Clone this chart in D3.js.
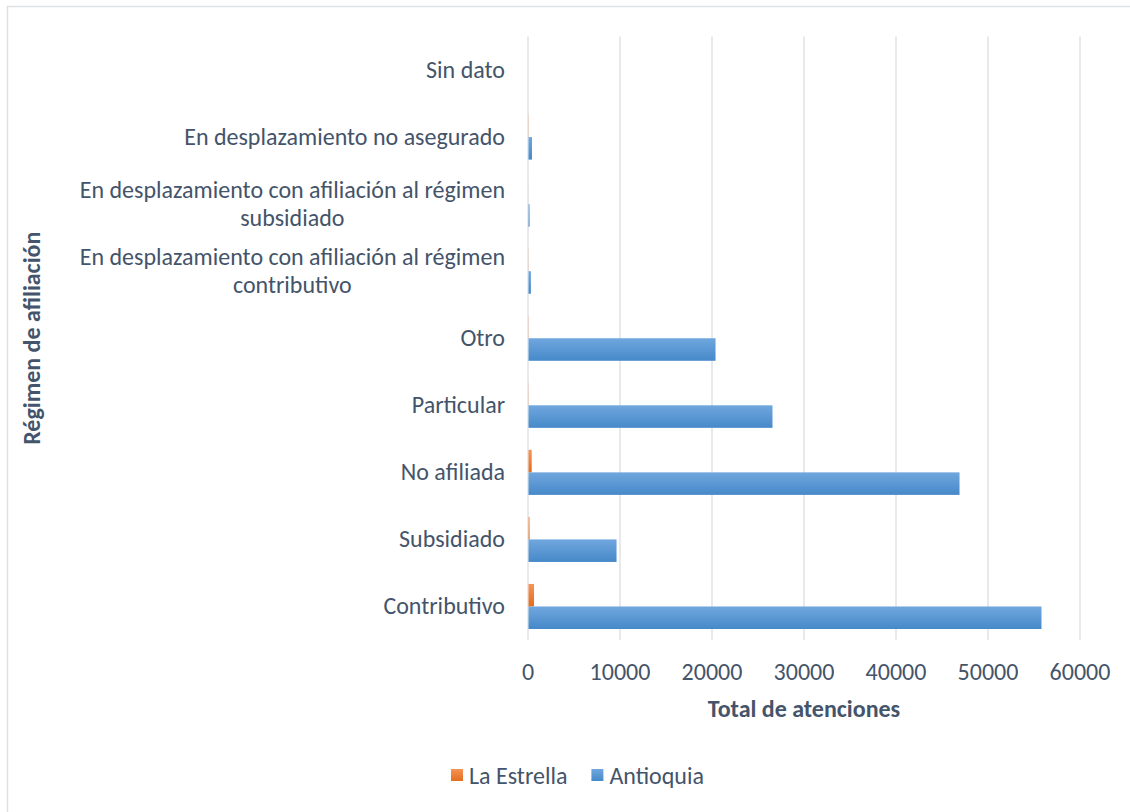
<!DOCTYPE html>
<head>
  <meta charset="utf-8">
  <script src="https://d3js.org/d3.v7.min.js"></script>
  <style>
    body { margin: 0; background: #fff; }
    text { font-family: Calibri, Carlito, Lato, sans-serif; fill: #44546a; }
  </style>
</head>
<body>
<script type="text/javascript">
// categories top to bottom
var categories = ["Sin dato", "En desplazamiento no asegurado",
  "En desplazamiento con afiliación al régimen subsidiado",
  "En desplazamiento con afiliación al régimen contributivo",
  "Otro", "Particular", "No afiliada", "Subsidiado", "Contributivo"];
var labelLines = [["Sin dato"], ["En desplazamiento no asegurado"],
  ["En desplazamiento con afiliación al régimen", "subsidiado"],
  ["En desplazamiento con afiliación al régimen", "contributivo"],
  ["Otro"], ["Particular"], ["No afiliada"], ["Subsidiado"], ["Contributivo"]];
var series = ["La Estrella", "Antioquia"];
var laEstrella = [0, 20, 5, 15, 20, 20, 350, 120, 600];
var antioquia = [0, 380, 120, 260, 20330, 26520, 46850, 9570, 55760];
var xTicks = [0, 10000, 20000, 30000, 40000, 50000, 60000];

var w = 1130, h = 812;
var pLeft = 528, pRight = 1080, pTop = 36.5, pBottom = 640;
var fs = 24;

var svg = d3.select("body").append("svg").attr("width", w).attr("height", h);

var defs = svg.append("defs");
function grad(id, c1, c2) {
  var g = defs.append("linearGradient").attr("id", id)
    .attr("x1", 0).attr("y1", 0).attr("x2", 0).attr("y2", 1);
  g.append("stop").attr("offset", "0%").attr("stop-color", c1);
  g.append("stop").attr("offset", "100%").attr("stop-color", c2);
}
grad("gOrange", "#f69455", "#e46d1f");
grad("gBlue", "#70a7de", "#4689c9");
var fills = {"La Estrella": "url(#gOrange)", "Antioquia": "url(#gBlue)"};

// outer frame
svg.append("rect").attr("x", 7.5).attr("y", 6.5)
  .attr("width", 1140).attr("height", 820)
  .attr("fill", "none").attr("stroke", "#dde1e6").attr("stroke-width", 1.5);

var x = d3.scaleLinear().domain([0, 60000]).range([pLeft, pRight]);
var y0 = d3.scaleBand().domain(categories).range([pTop, pBottom])
  .paddingInner(0.328).paddingOuter(0.164);
var y1 = d3.scaleBand().domain(series).range([0, y0.bandwidth()]);

// gridlines
svg.selectAll("line.grid").data(xTicks).enter().append("line")
  .attr("class", "grid")
  .attr("x1", function(d){ return x(d); }).attr("x2", function(d){ return x(d); })
  .attr("y1", pTop).attr("y2", pBottom)
  .attr("stroke", "#dfe2e7").attr("stroke-width", 1.5);

// bars
var rows = categories.map(function(c, i){
  return {cat: c, vals: [{s: "La Estrella", v: laEstrella[i]}, {s: "Antioquia", v: antioquia[i]}]};
});
var g = svg.selectAll("g.cat").data(rows).enter().append("g")
  .attr("transform", function(d){ return "translate(0," + y0(d.cat) + ")"; });
g.selectAll("rect").data(function(d){ return d.vals; }).enter().append("rect")
  .attr("x", x(0) + 0.5)
  .attr("y", function(d){ return y1(d.s); })
  .attr("height", y1.bandwidth())
  .attr("width", function(d){ return Math.max(0, x(d.v) - x(0)); })
  .attr("fill", function(d){ return fills[d.s]; });

// x axis tick labels
svg.selectAll("text.xt").data(xTicks).enter().append("text")
  .attr("x", function(d){ return x(d); }).attr("y", 680)
  .attr("text-anchor", "middle").attr("font-size", fs)
  .text(function(d){ return d; });

// category labels
labelLines.forEach(function(lines, i){
  var cy = y0(categories[i]) + y0.bandwidth() / 2;
  var t = svg.append("text").attr("font-size", fs).attr("text-anchor", "middle");
  var n = lines.length;
  var lh = 28;
  var tmp = svg.append("text").attr("font-size", fs).text(lines[0]);
  var wmax = 0;
  lines.forEach(function(l){ tmp.text(l); wmax = Math.max(wmax, tmp.node().getComputedTextLength()); });
  tmp.remove();
  var cx = 505 - wmax / 2;
  lines.forEach(function(l, j){
    t.append("tspan").attr("x", cx)
      .attr("y", cy + (j - (n - 1) / 2) * lh + 8)
      .text(l);
  });
});

// axis titles
svg.append("text").attr("x", (pLeft + pRight) / 2).attr("y", 717)
  .attr("text-anchor", "middle").attr("font-size", fs).attr("font-weight", "bold")
  .text("Total de atenciones");
svg.append("text").attr("transform", "translate(40," + ((pTop + pBottom) / 2) + ") rotate(-90)")
  .attr("text-anchor", "middle").attr("font-size", fs).attr("font-weight", "bold")
  .text("Régimen de afiliación");

// legend
var leg = svg.append("g").attr("transform", "translate(451,769)");
var lx = 0;
series.forEach(function(s){
  var item = leg.append("g").attr("transform", "translate(" + lx + ",0)");
  item.append("rect").attr("width", 12).attr("height", 12).attr("fill", fills[s]);
  var t = item.append("text").attr("x", 18).attr("y", 15).attr("font-size", fs).text(s);
  lx += 18 + t.node().getComputedTextLength() + 24;
});
</script>
</body>
